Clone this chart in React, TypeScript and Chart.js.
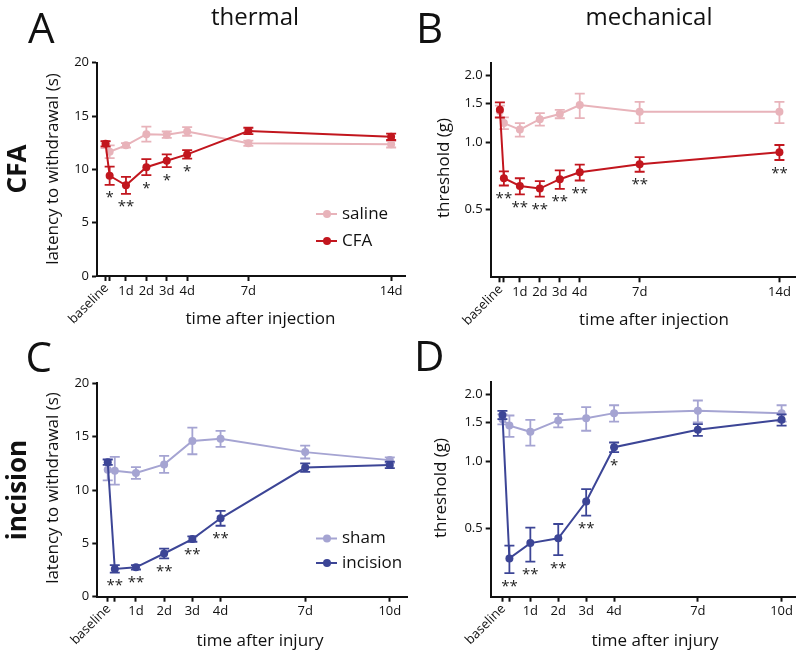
import React, { useEffect, useRef } from 'react';
import { Chart, registerables } from 'chart.js';
Chart.register(...registerables);

const FONT = '"Open Sans", "Noto Sans", sans-serif';

// time points (days); first point is baseline
const daysCFA = [0, 0.2, 1, 2, 3, 4, 7, 14];
const daysIncision = [0, 0.25, 1, 2, 3, 4, 7, 10];
const xLabelsCFA = ['baseline', '', '1d', '2d', '3d', '4d', '7d', '14d'];
const xLabelsIncision = ['baseline', '', '1d', '2d', '3d', '4d', '7d', '10d'];
const thermalTicks = [0, 5, 10, 15, 20];
const mechanicalTicks = [0.5, 1.0, 1.5, 2.0];

// A: thermal, CFA
const salineThermal = [12.3, 11.65, 12.25, 13.3, 13.25, 13.55, 12.45, 12.35];
const salineThermalSem = [0.3, 0.6, 0.2, 0.7, 0.3, 0.4, 0.25, 0.3];
const cfaThermal = [12.4, 9.4, 8.5, 10.2, 10.8, 11.4, 13.6, 13.05];
const cfaThermalSem = [0.25, 0.85, 0.8, 0.75, 0.6, 0.4, 0.3, 0.3];
const cfaThermalStars = ['', '*', '**', '*', '*', '*', '', ''];

// B: mechanical, CFA
const salineMech = [1.38, 1.22, 1.14, 1.27, 1.34, 1.47, 1.37, 1.37];
const salineMechSem = [0.08, 0.074, 0.08, 0.083, 0.058, 0.186, 0.15, 0.15];
const cfaMech = [1.4, 0.689, 0.636, 0.619, 0.682, 0.733, 0.797, 0.902];
const cfaMechSem = [0.11, 0.05, 0.053, 0.05, 0.065, 0.06, 0.06, 0.07];
const cfaMechStars = ['', '**', '**', '**', '**', '**', '**', '**'];

// C: thermal, incision
const shamThermal = [11.9, 11.8, 11.6, 12.4, 14.6, 14.8, 13.55, 12.8];
const shamThermalSem = [1.0, 1.3, 0.55, 0.8, 1.25, 0.75, 0.6, 0.25];
const incThermal = [12.6, 2.6, 2.75, 4.05, 5.4, 7.35, 12.1, 12.35];
const incThermalSem = [0.25, 0.35, 0.2, 0.45, 0.25, 0.7, 0.4, 0.3];
const incThermalStars = ['', '**', '**', '**', '**', '**', '', ''];

// D: mechanical, incision
const shamMech = [1.55, 1.45, 1.36, 1.53, 1.565, 1.65, 1.69, 1.65];
const shamMechSem = [0.08, 0.16, 0.18, 0.105, 0.19, 0.14, 0.19, 0.14];
const incMech = [1.62, 0.367, 0.43, 0.452, 0.661, 1.16, 1.388, 1.54];
const incMechSem = [0.07, 0.052, 0.075, 0.072, 0.09, 0.058, 0.085, 0.09];
const incMechStars = ['', '**', '**', '**', '**', '*', '', ''];

const PINK = '#e8b3ba';
const RED = '#c2161e';
const LILAC = '#a5a4d2';
const NAVY = '#3c4596';

type Series = { label: string; mean: number[]; sem: number[]; color: string; order: number };
type Panel = {
  key: string;
  canvas: { left: number; top: number; width: number; height: number };
  area: { left: number; top: number; right: number; bottom: number };
  xMin: number; xMax: number; yMin: number; yMax: number; log: boolean;
  days: number[]; xLabels: string[]; yTicks: number[];
  series: Series[]; stars: string[]; starSeries: number;
  xTitle: { text: string; x: number; y: number };
  yTitle: { text: string; x: number; y: number };
  legend?: { x: number; y: number; gap: number };
};

const panels: Panel[] = [
  {
    key: 'A',
    canvas: { left: 0, top: 30, width: 420, height: 310 },
    area: { left: 97, top: 62.7, right: 405, bottom: 276 },
    xMin: -0.42, xMax: 14.68, yMin: 0, yMax: 20, log: false,
    days: daysCFA, xLabels: xLabelsCFA, yTicks: thermalTicks,
    series: [
      { label: 'CFA', mean: cfaThermal, sem: cfaThermalSem, color: RED, order: 0 },
      { label: 'saline', mean: salineThermal, sem: salineThermalSem, color: PINK, order: 1 },
    ],
    stars: cfaThermalStars, starSeries: 0,
    xTitle: { text: 'time after injection', x: 260.5, y: 324 },
    yTitle: { text: 'latency to withdrawal (s)', x: 57.5, y: 169 },
    legend: { x: 316, y: 214, gap: 27 },
  },
  {
    key: 'B',
    canvas: { left: 400, top: 30, width: 399, height: 310 },
    area: { left: 490.7, top: 63.3, right: 797, bottom: 277.3 },
    xMin: -0.46, xMax: 14.78, yMin: 0.247, yMax: 2.265, log: true,
    days: daysCFA, xLabels: xLabelsCFA, yTicks: mechanicalTicks,
    series: [
      { label: 'CFA', mean: cfaMech, sem: cfaMechSem, color: RED, order: 0 },
      { label: 'saline', mean: salineMech, sem: salineMechSem, color: PINK, order: 1 },
    ],
    stars: cfaMechStars, starSeries: 0,
    xTitle: { text: 'time after injection', x: 654, y: 325 },
    yTitle: { text: 'threshold (g)', x: 449, y: 168 },
  },
  {
    key: 'C',
    canvas: { left: 0, top: 335, width: 420, height: 318 },
    area: { left: 97.3, top: 383.3, right: 407, bottom: 596.7 },
    xMin: -0.37, xMax: 10.61, yMin: 0, yMax: 20, log: false,
    days: daysIncision, xLabels: xLabelsIncision, yTicks: thermalTicks,
    series: [
      { label: 'incision', mean: incThermal, sem: incThermalSem, color: NAVY, order: 0 },
      { label: 'sham', mean: shamThermal, sem: shamThermalSem, color: LILAC, order: 1 },
    ],
    stars: incThermalStars, starSeries: 0,
    xTitle: { text: 'time after injury', x: 260, y: 645.5 },
    yTitle: { text: 'latency to withdrawal (s)', x: 57.5, y: 488 },
    legend: { x: 316, y: 538.5, gap: 24.5 },
  },
  {
    key: 'D',
    canvas: { left: 400, top: 335, width: 399, height: 318 },
    area: { left: 490.7, top: 382.3, right: 797, bottom: 596.7 },
    xMin: -0.42, xMax: 10.48, yMin: 0.247, yMax: 2.27, log: true,
    days: daysIncision, xLabels: xLabelsIncision, yTicks: mechanicalTicks,
    series: [
      { label: 'incision', mean: incMech, sem: incMechSem, color: NAVY, order: 0 },
      { label: 'sham', mean: shamMech, sem: shamMechSem, color: LILAC, order: 1 },
    ],
    stars: incMechStars, starSeries: 0,
    xTitle: { text: 'time after injury', x: 655, y: 645.5 },
    yTitle: { text: 'threshold (g)', x: 445.5, y: 488 },
  },
];

const errorBarPlugin = {
  id: 'errbars',
  beforeDatasetDraw(chart: any, args: any, opts: any) {
    const p: Panel = opts.panel;
    const s = p.series[args.index];
    const xs = chart.scales.x, ys = chart.scales.y;
    const ctx = chart.ctx;
    ctx.save();
    ctx.strokeStyle = s.color;
    ctx.lineWidth = 1.8;
    p.days.forEach((d, i) => {
      const x = xs.getPixelForValue(d);
      const yTop = ys.getPixelForValue(s.mean[i] + s.sem[i]);
      const yBot = ys.getPixelForValue(s.mean[i] - s.sem[i]);
      ctx.beginPath();
      ctx.moveTo(x, yTop); ctx.lineTo(x, yBot);
      ctx.moveTo(x - 5, yTop); ctx.lineTo(x + 5, yTop);
      ctx.moveTo(x - 5, yBot); ctx.lineTo(x + 5, yBot);
      ctx.stroke();
    });
    ctx.restore();
  },
};

const annotPlugin = {
  id: 'annot',
  afterDraw(chart: any, _args: any, opts: any) {
    const p: Panel = opts.panel;
    const ctx = chart.ctx;
    const xs = chart.scales.x, ys = chart.scales.y;
    const ox = p.canvas.left, oy = p.canvas.top;
    ctx.save();
    // significance stars
    const s = p.series[p.starSeries];
    ctx.fillStyle = '#222';
    ctx.font = `15px ${FONT}`;
    ctx.textAlign = 'center';
    ctx.textBaseline = 'alphabetic';
    p.stars.forEach((st, i) => {
      if (!st) return;
      const x = xs.getPixelForValue(p.days[i]);
      const y = ys.getPixelForValue(s.mean[i] - s.sem[i]);
      ctx.fillText(st, x, y + 17.5);
    });
    // rotated baseline label
    ctx.fillStyle = '#111';
    ctx.font = `13px ${FONT}`;
    const bi = p.xLabels.indexOf('baseline');
    const bx = xs.getPixelForValue(p.days[bi]);
    ctx.save();
    ctx.translate(bx + 1, chart.chartArea.bottom + 10);
    ctx.rotate(-Math.PI / 4);
    ctx.textAlign = 'right';
    ctx.textBaseline = 'middle';
    ctx.fillText('baseline', 0, 0);
    ctx.restore();
    // axis titles
    ctx.font = `17px ${FONT}`;
    ctx.textAlign = 'center';
    ctx.textBaseline = 'alphabetic';
    ctx.fillText(p.xTitle.text, p.xTitle.x - ox, p.xTitle.y - oy);
    ctx.save();
    ctx.translate(p.yTitle.x - ox, p.yTitle.y - oy);
    ctx.rotate(-Math.PI / 2);
    ctx.fillText(p.yTitle.text, 0, 0);
    ctx.restore();
    // legend
    if (p.legend) {
      const lg = p.legend;
      const items = [...p.series].sort((a, b) => b.order - a.order);
      items.forEach((it, k) => {
        const y = lg.y - oy + k * lg.gap;
        const x0 = lg.x - ox;
        ctx.strokeStyle = it.color;
        ctx.fillStyle = it.color;
        ctx.lineWidth = 2;
        ctx.beginPath();
        ctx.moveTo(x0, y); ctx.lineTo(x0 + 21, y);
        ctx.stroke();
        ctx.beginPath();
        ctx.arc(x0 + 11, y, 4, 0, Math.PI * 2);
        ctx.fill();
        ctx.fillStyle = '#111';
        ctx.font = `17px ${FONT}`;
        ctx.textAlign = 'left';
        ctx.textBaseline = 'middle';
        ctx.fillText(it.label, x0 + 26, y);
      });
    }
    ctx.restore();
  },
};

function makeConfig(p: Panel): any {
  const datasets = p.series.map((s) => ({
    label: s.label,
    data: p.days.map((d, i) => ({ x: d, y: s.mean[i] })),
    borderColor: s.color,
    backgroundColor: s.color,
    pointBackgroundColor: s.color,
    pointBorderColor: s.color,
    pointRadius: 4,
    pointBorderWidth: 0,
    borderWidth: 2,
    tension: 0,
    clip: false,
    order: s.order,
  }));
  const axisColor = '#111';
  return {
    type: 'line',
    data: { datasets },
    plugins: [errorBarPlugin, annotPlugin],
    options: {
      animation: false,
      responsive: false,
      maintainAspectRatio: false,
      devicePixelRatio: 1,
      events: [],
      layout: {
        padding: {
          left: 0,
          top: p.area.top - p.canvas.top,
          right: p.canvas.left + p.canvas.width - p.area.right,
          bottom: 0,
        },
      },
      plugins: {
        legend: { display: false },
        tooltip: { enabled: false },
        errbars: { panel: p },
        annot: { panel: p },
      },
      scales: {
        x: {
          type: 'linear',
          min: p.xMin,
          max: p.xMax,
          afterBuildTicks: (sc: any) => {
            sc.ticks = p.days.map((v) => ({ value: v }));
          },
          afterFit: (sc: any) => {
            sc.height = p.canvas.top + p.canvas.height - p.area.bottom;
          },
          ticks: {
            autoSkip: false,
            maxRotation: 0,
            minRotation: 0,
            padding: 2,
            color: axisColor,
            font: { family: FONT, size: 13 },
            callback: (_v: any, i: number) => (p.xLabels[i] === 'baseline' ? '' : p.xLabels[i]),
          },
          grid: { drawOnChartArea: false, drawTicks: true, tickLength: 5, tickWidth: 2, tickColor: axisColor },
          border: { display: true, color: axisColor, width: 2 },
        },
        y: {
          type: p.log ? 'logarithmic' : 'linear',
          min: p.yMin,
          max: p.yMax,
          afterBuildTicks: (sc: any) => {
            sc.ticks = p.yTicks.map((v) => ({ value: v }));
          },
          afterFit: (sc: any) => {
            sc.width = p.area.left - p.canvas.left;
          },
          ticks: {
            padding: 3,
            color: axisColor,
            font: { family: FONT, size: 13 },
            callback: (v: any) => (p.log ? Number(v).toFixed(1) : String(v)),
          },
          grid: { drawOnChartArea: false, drawTicks: true, tickLength: 5, tickWidth: 2, tickColor: axisColor },
          border: { display: true, color: axisColor, width: 2 },
        },
      },
    },
  };
}

function PanelChart({ p }: { p: Panel }) {
  const ref = useRef<HTMLCanvasElement>(null);
  useEffect(() => {
    const chart = new Chart(ref.current as HTMLCanvasElement, makeConfig(p));
    return () => chart.destroy();
  }, [p]);
  return (
    <canvas
      ref={ref}
      width={p.canvas.width}
      height={p.canvas.height}
      style={{
        position: 'absolute',
        left: p.canvas.left,
        top: p.canvas.top,
        width: p.canvas.width,
        height: p.canvas.height,
      }}
    />
  );
}

const textBase: React.CSSProperties = {
  position: 'absolute',
  fontFamily: FONT,
  lineHeight: 1,
  whiteSpace: 'nowrap',
  color: '#111',
};

export default function App() {
  return (
    <div style={{ position: 'fixed', left: 0, top: 0, width: 799, height: 653, background: '#fff', overflow: 'hidden' }}>
      {panels.map((p) => (
        <PanelChart key={p.key} p={p} />
      ))}
      <div style={{ ...textBase, left: 28, top: 5.7, fontSize: 42 }}>A</div>
      <div style={{ ...textBase, left: 416, top: 5.7, fontSize: 42 }}>B</div>
      <div style={{ ...textBase, left: 25.5, top: 334.7, fontSize: 42 }}>C</div>
      <div style={{ ...textBase, left: 414, top: 334.4, fontSize: 42 }}>D</div>
      <div style={{ ...textBase, left: 155, width: 200, textAlign: 'center', top: 3.7, fontSize: 24 }}>thermal</div>
      <div style={{ ...textBase, left: 549, width: 200, textAlign: 'center', top: 3.7, fontSize: 24 }}>mechanical</div>
      <div
        style={{
          ...textBase,
          left: 15.7 - 100,
          width: 200,
          textAlign: 'center',
          top: 169 - 13,
          height: 26,
          fontSize: 26,
          fontWeight: 700,
          transform: 'rotate(-90deg)',
          transformOrigin: '50% 50%',
        }}
      >
        CFA
      </div>
      <div
        style={{
          ...textBase,
          left: 15.9 - 100,
          width: 200,
          textAlign: 'center',
          top: 490 - 13,
          height: 26,
          fontSize: 26,
          fontWeight: 700,
          transform: 'rotate(-90deg)',
          transformOrigin: '50% 50%',
        }}
      >
        incision
      </div>
    </div>
  );
}
